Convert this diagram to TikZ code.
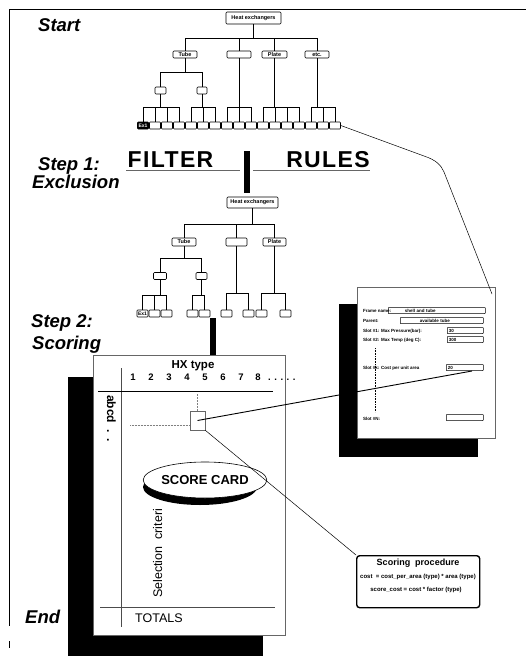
\documentclass[tikz,border=0pt]{standalone}
\usepackage{fontspec}
\setmainfont{Liberation Sans}
\usetikzlibrary{shapes.geometric}
\begin{document}
\begin{tikzpicture}[x=1pt,y=-1pt,
  tb/.style={draw, line width=0.6pt, rounded corners=1pt, inner sep=0pt, fill=white, font=\fontsize{5.5}{6}\selectfont\bfseries},
  leaf/.style={draw, line width=0.6pt, rounded corners=0.8pt, inner sep=0pt, minimum width=11pt, minimum height=7pt, fill=white, font=\fontsize{5}{6}\selectfont\bfseries},
  edge/.style={line width=0.5pt},
  lab/.style={font=\fontsize{18.5}{20}\selectfont\bfseries\itshape, anchor=base west, inner sep=0pt},
  big/.style={font=\fontsize{23}{24}\selectfont\bfseries\addfontfeatures{LetterSpace=6}, anchor=base, inner sep=0pt},
  fp/.style={font=\fontsize{4.5}{5}\selectfont\bfseries, anchor=base west, inner sep=0pt},
  fld/.style={draw, line width=0.5pt, rounded corners=0.5pt, inner xsep=1.5pt, inner ysep=0pt, minimum height=6pt, anchor=west, align=left, font=\fontsize{4.5}{5}\selectfont\bfseries},
  num/.style={font=\fontsize{9.5}{10}\selectfont\bfseries, anchor=base, inner sep=0pt},
  panel/.style={draw=black!60, line width=0.5pt, fill=white, inner sep=0pt, anchor=north west}
]
\fill[white] (0,0) rectangle (526,656);
\useasboundingbox (0,0) rectangle (526,656);

% outer frame
\draw[line width=0.8pt] (526,9) -- (9,9) -- (9,626);
\draw[line width=0.6pt] (9,641) -- (9,648);

% labels
\node[lab] (start) at (38,31) {Start};
\node[lab] (s1) at (38,170) {Step 1:};
\node[lab] (excl) at (32,188) {Exclusion};
\node[lab] (s2) at (31,327) {Step 2:};
\node[lab] (scor) at (32,349) {Scoring};
\node[lab] (end) at (25,623) {End};

% ---------- top tree
\node[tb, minimum width=55pt, minimum height=12pt] (H1) at (253.5,18) {Heat exchangers};
\node[tb, minimum width=24pt, minimum height=7pt] (T1) at (185,54.5) {Tube};
\node[tb, minimum width=24pt, minimum height=7pt] (E1) at (239,54.5) {};
\node[tb, minimum width=25pt, minimum height=7pt] (P1) at (274.5,54.5) {Plate};
\node[tb, minimum width=24pt, minimum height=7pt] (X1) at (317,54.5) {etc.};
\node[tb, minimum width=11pt, minimum height=7pt] (S1) at (160.5,90.5) {};
\node[tb, minimum width=10pt, minimum height=7pt] (S2) at (202,90.5) {};
\node[leaf, fill=black, text=white] (La0) at (143,125.5) {Ex1};
\foreach \k in {1,...,16} \node[leaf] (La\k) at (143+12*\k,125.5) {};

\draw[edge] (H1.south) -- (H1.south |- 0,38);
\draw[edge] (T1.north) |- (X1.north |- 0,38) -- (X1.north);
\draw[edge] (E1.north) -- (E1.north |- 0,38);
\draw[edge] (P1.north) -- (P1.north |- 0,38);
\draw[edge] (T1.south) -- (T1.south |- 0,72);
\draw[edge] (S1.north) |- (S2.north |- 0,72) -- (S2.north);
% brackets
\draw[edge] (S1.south) -- (S1.south |- 0,107);
\draw[edge] (La0.north) |- (La3.north |- 0,107) -- (La3.north);
\foreach \k in {1,2} \draw[edge] (La\k.north) -- (La\k.north |- 0,107);
\draw[edge] (S2.south) -- (S2.south |- 0,107);
\draw[edge] (La4.north) |- (La6.north |- 0,107) -- (La6.north);
\draw[edge] (La5.north) -- (La5.north |- 0,107);
\draw[edge] (E1.south) -- (E1.south |- 0,107);
\draw[edge] (La7.north) |- (La9.north |- 0,107) -- (La9.north);
\draw[edge] (La8.north) -- (La8.north |- 0,107);
\draw[edge] (P1.south) -- (P1.south |- 0,107);
\draw[edge] (La10.north) |- (La13.north |- 0,107) -- (La13.north);
\foreach \k in {11,12} \draw[edge] (La\k.north) -- (La\k.north |- 0,107);
\draw[edge] (X1.south) -- (X1.south |- 0,107);
\draw[edge] (La14.north) |- (La16.north |- 0,107) -- (La16.north);
\draw[edge] (La15.north) -- (La15.north |- 0,107);

% ---------- filter rules
\node[big] (filter) at (170.5,167) {FILTER};
\node[big] (rules) at (328,167) {RULES};
\draw[black!60, line width=0.5pt] (126,170) -- (240,170);
\draw[black!60, line width=0.5pt] (253,170) -- (370,170);
\fill (244,151) rectangle (250,193);

% ---------- second tree
\node[tb, minimum width=51pt, minimum height=11pt] (H2) at (252.5,202.5) {Heat exchangers};
\node[tb, minimum width=24pt, minimum height=8pt] (T2) at (184,242) {Tube};
\node[tb, minimum width=21pt, minimum height=8pt] (E2) at (236.5,242) {};
\node[tb, minimum width=23pt, minimum height=8pt] (P2) at (274.5,242) {Plate};
\node[tb, minimum width=13pt, minimum height=7pt] (SB1) at (160,276) {};
\node[tb, minimum width=11pt, minimum height=7pt] (SB2) at (201.5,276) {};
\node[leaf] (Lb0) at (142.5,313.5) {Ex1};
\node[leaf] (Lb1) at (154.5,313.5) {};
\node[leaf] (Lb2) at (166.5,313.5) {};
\node[leaf] (Lb3) at (192.5,313.5) {};
\node[leaf] (Lb4) at (204.5,313.5) {};
\node[leaf] (Lb5) at (226.5,313.5) {};
\node[leaf] (Lb6) at (248.5,313.5) {};
\node[leaf] (Lb7) at (261.5,313.5) {};
\node[leaf] (Lb8) at (285.5,313.5) {};

\draw[edge] (H2.south) -- (H2.south |- 0,224);
\draw[edge] (T2.north) |- (P2.north |- 0,224) -- (P2.north);
\draw[edge] (E2.north) -- (E2.north |- 0,224);
\draw[edge] (T2.south) -- (T2.south |- 0,258);
\draw[edge] (SB1.north) |- (SB2.north |- 0,258) -- (SB2.north);
\draw[edge] (SB1.south) -- (SB1.south |- 0,295);
\draw[edge] (Lb0.north) |- (Lb2.north |- 0,295) -- (Lb2.north);
\draw[edge] (Lb1.north) -- (Lb1.north |- 0,295);
\draw[edge] (SB2.south) -- (SB2.south |- 0,295);
\draw[edge] (Lb3.north) |- (Lb4.north |- 0,295) -- (Lb4.north);
\draw[edge] (E2.south) -- (E2.south |- 0,293);
\draw[edge] (Lb5.north) |- (Lb6.north |- 0,293) -- (Lb6.north);
\draw[edge] (P2.south) -- (P2.south |- 0,293);
\draw[edge] (Lb7.north) |- (Lb8.north |- 0,293) -- (Lb8.north);

\fill (210,318) rectangle (216,356);

% ---------- frame panel
\fill (339,304) rectangle (478,457);
\node[panel, minimum width=138pt, minimum height=151pt] (FP) at (357,287) {};
\node[fp] (fn) at (363,312) {Frame name:};
\node[fld, text width=94pt] (fnv) at (388,310.5) {\hspace{15pt}shell and tube};
\node[fp] (pa) at (363,322) {Parent:};
\node[fld, text width=80pt] (pav) at (400,320.5) {\hspace{18pt}available tube};
\node[fp] (sl1) at (363,332) {Slot \#1: Max Pressure(bar):};
\node[fld, text width=33pt] (sl1v) at (447,330.5) {30};
\node[fp] (sl2) at (363,341) {Slot \#2: Max Temp (deg C):};
\node[fld, text width=33pt] (sl2v) at (447,339.5) {300};
\node[fp] (slk) at (363,369) {Slot \#k: Cost per unit area};
\node[fld, text width=34pt] (slkv) at (446,367.5) {20};
\node[fp] (sln) at (363,420) {Slot \#N:};
\node[fld, text width=34pt] (slnv) at (446,417.5) {};
\draw[densely dotted, line width=0.6pt] (375,348) -- (375,412);

% connector from top tree to frame panel
\coordinate (fpc) at (492,294);
\draw[line width=0.5pt] (La16.east) -- (424,156) .. controls (436,160) and (441,165) .. (444,172) -- (fpc);

% ---------- score card
\fill (68,377) rectangle (263,656);
\node[panel, minimum width=192pt, minimum height=280pt] (SC) at (93,355) {};
\node[font=\fontsize{11.5}{12}\selectfont\bfseries, anchor=base, inner sep=0pt] (hx) at (193,368) {HX type};
\foreach \n/\xx in {1/133,2/151,3/169,4/187,5/205,6/223,7/241,8/258}
  \node[num] (n\n) at (\xx,380) {\n};
\node[num, anchor=base west] (ndots) at (268,380) {. . . . .};
\draw[black!70, line width=0.5pt] (121,368) -- (121,627);
\draw[line width=0.7pt] (98,391) -- (273,391);
\draw[black!70, line width=0.6pt] (100,607) -- (275,607);
\node[font=\fontsize{12}{12}\selectfont\bfseries, rotate=-90, anchor=base west, inner sep=0pt] (abcd) at (107,395) {abcd\hspace{6pt}.\hspace{6pt}.};
\node[font=\fontsize{12.5}{13}\selectfont, rotate=90, anchor=base west, inner sep=0pt] (selc) at (162,598) {Selection\ \ criteri};
\node[font=\fontsize{12.5}{13}\selectfont, anchor=base west, inner sep=0pt] (tot) at (135,622) {TOTALS};

\node[draw=black!60, line width=0.5pt, fill=white, minimum width=15pt, minimum height=19pt, inner sep=0pt] (cell) at (197.5,420.5) {};
\draw[black!50, densely dotted, line width=0.5pt] (cell.north) -- (cell.north |- 0,393);
\draw[black!50, densely dotted, line width=0.5pt] (130,425) -- (cell.west |- 0,425);

\fill (200,487) ellipse [x radius=57, y radius=18];
\node[ellipse, draw, line width=0.6pt, fill=white, minimum width=114pt, minimum height=36pt, inner sep=0pt, font=\fontsize{13}{13}\selectfont\bfseries] (card) at (205,480) {SCORE CARD};

% scoring procedure
\node[draw, line width=1.4pt, rounded corners=3pt, fill=white, minimum width=123pt, minimum height=52pt, inner sep=0pt, anchor=north west] (SP) at (356,555) {};
\node[font=\fontsize{9}{10}\selectfont\bfseries, anchor=base, inner sep=0pt] (spt) at (418,565) {Scoring\ \ procedure};
\node[font=\fontsize{6}{7}\selectfont\bfseries, anchor=base, inner sep=0pt] (spa) at (418,578) {cost \ = cost\_per\_area (type) * area (type)};
\node[font=\fontsize{6}{7}\selectfont\bfseries, anchor=base, inner sep=0pt] (spb) at (416,591) {score\_cost = cost * factor (type)};

% connectors from cell
\coordinate (fkend) at (472,371);
\draw[line width=0.9pt] (cell.center) -- (fkend);
\draw[line width=0.5pt] (cell.south east) -- (SP.north west);
\end{tikzpicture}
\end{document}
